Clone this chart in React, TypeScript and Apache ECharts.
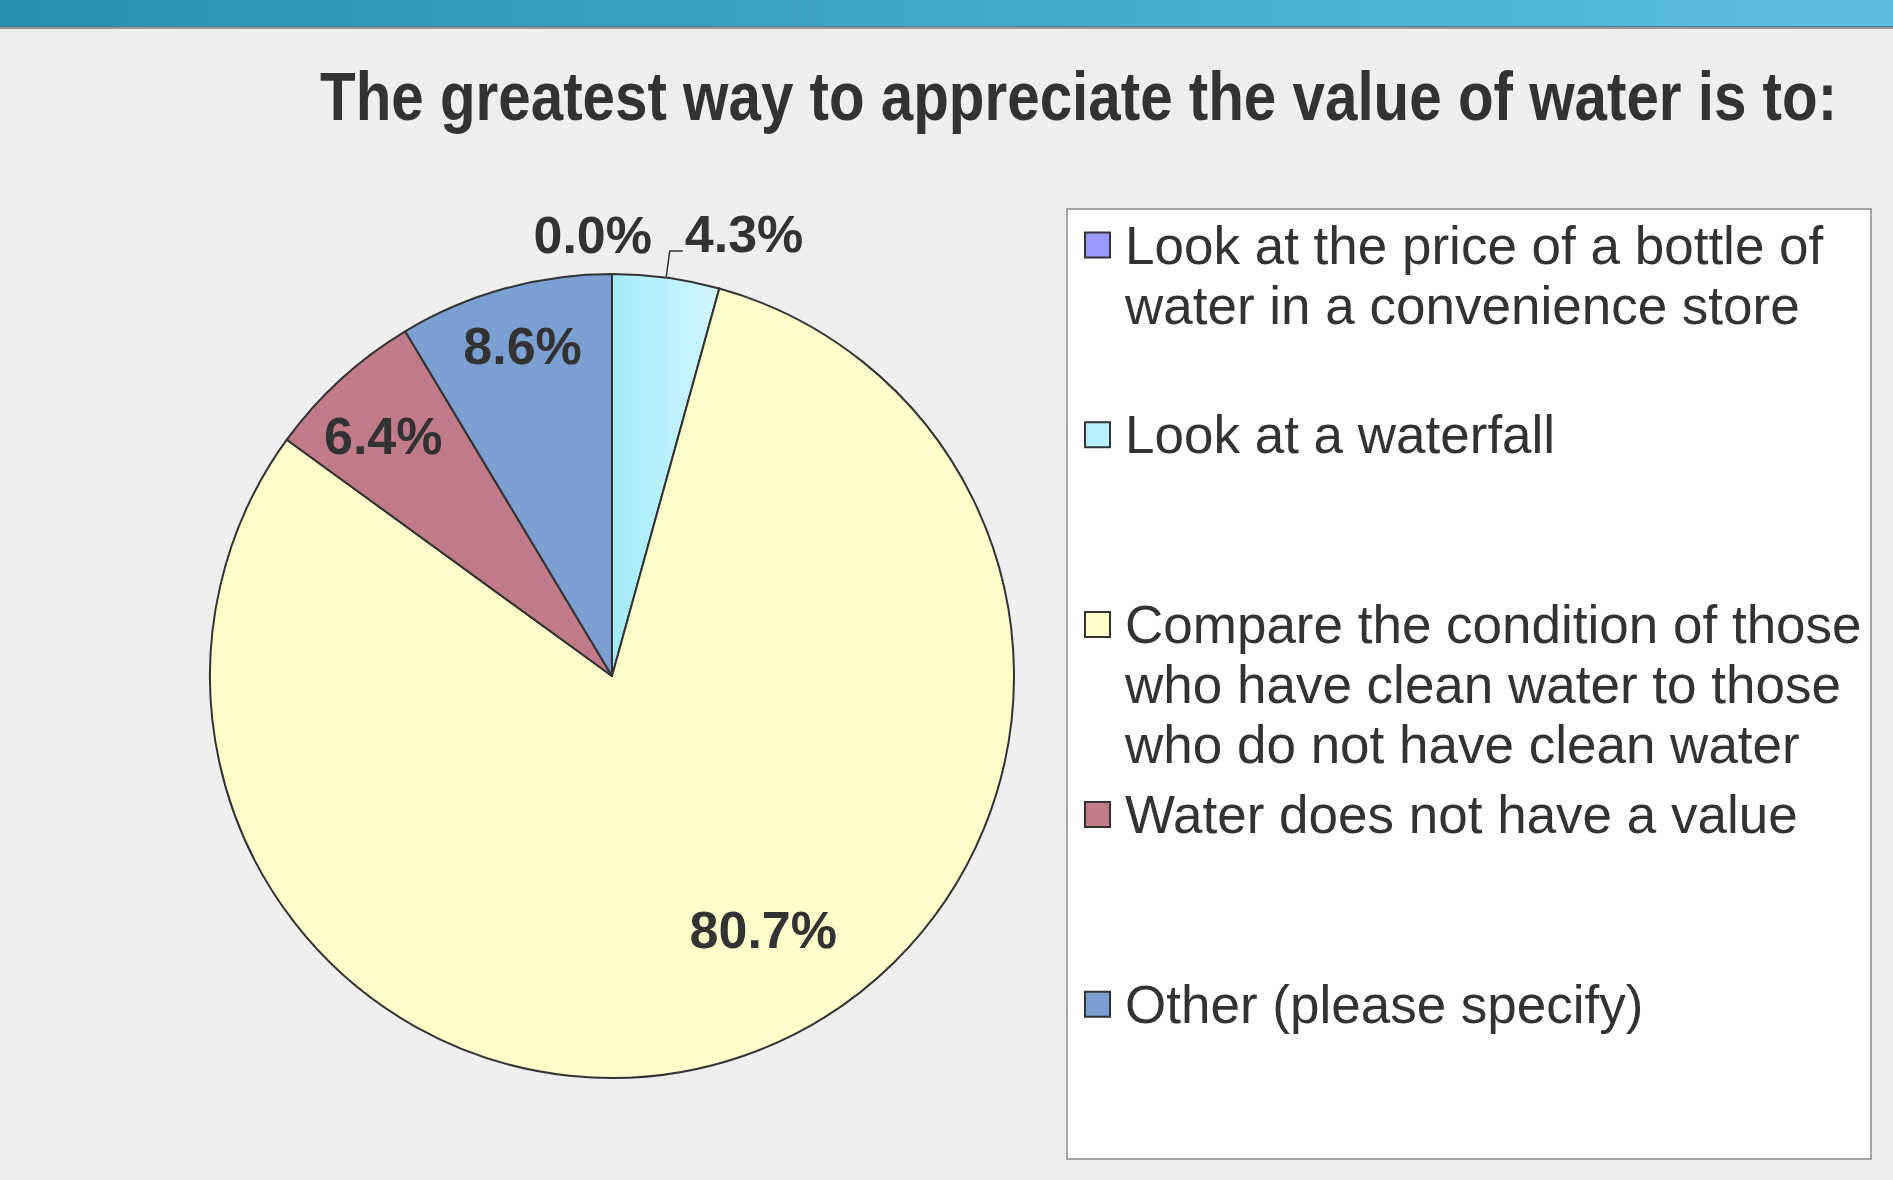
import React, { useEffect, useRef } from "react";
import * as echarts from "echarts";

// ---------- data ----------
const titleText = "The greatest way to appreciate the value of water is to:";
const categories = [
  "Look at the price of a bottle of water in a convenience store",
  "Look at a waterfall",
  "Compare the condition of those who have clean water to those who do not have clean water",
  "Water does not have a value",
  "Other (please specify)",
];
const legendLines = [
  ["Look at the price of a bottle of", "water in a convenience store"],
  ["Look at a waterfall"],
  ["Compare the condition of those", "who have clean water to those", "who do not have clean water"],
  ["Water does not have a value"],
  ["Other (please specify)"],
];
const percentages = [0.0, 4.3, 80.7, 6.4, 8.6];

// ---------- styles ----------
const sliceColors: any[] = [
  "#9999ff",
  {
    type: "linear",
    x: 0,
    y: 0,
    x2: 1,
    y2: 0,
    colorStops: [
      { offset: 0, color: "#a2ebfc" },
      { offset: 1, color: "#d2f6ff" },
    ],
  },
  "#ffffcc",
  "#c07a88",
  "#7b9fd0",
];
const legendIconColors = ["#9999ff", "#b8f0fd", "#ffffcc", "#c07a88", "#7b9fd0"];

const W = 1893;
const H = 1180;
const CX = 612;
const CY = 676;
const R = 402;
const SANS = "'Liberation Sans', Arial, Helvetica, sans-serif";
const TEXT_COLOR = "#333333";

// nudges for labels (dx, dy) relative to ECharts' default position
const labelShift: Record<number, [number, number]> = {
  1: [0, -17],
  2: [84, 61],
  3: [-91, -90],
  4: [-35, -133],
};

const LEGEND_X = 1067;
const LEGEND_Y = 209;
const LEGEND_W = 804;
const LEGEND_H = 950;
const LEGEND_FIRST = 245;
const LEGEND_STEP = 189.8;
const LEGEND_LINE = 60;

export default function App() {
  const ref = useRef<HTMLDivElement>(null);

  useEffect(() => {
    if (!ref.current) return;
    const chart = echarts.init(ref.current, undefined, { renderer: "svg", width: W, height: H });

    const legendGraphics: any[] = [];
    legendLines.forEach((lines, i) => {
      const cy = LEGEND_FIRST + i * LEGEND_STEP;
      legendGraphics.push({
        type: "rect",
        shape: { x: 1085, y: cy - 12.5, width: 25, height: 25 },
        style: { fill: legendIconColors[i], stroke: "#333", lineWidth: 2 },
        z: 10,
      });
      legendGraphics.push({
        type: "text",
        x: 1125,
        y: cy - LEGEND_LINE / 2,
        style: {
          text: lines.join("\n"),
          font: `53px ${SANS}`,
          fill: TEXT_COLOR,
          lineHeight: LEGEND_LINE,
          verticalAlign: "top",
          align: "left",
        },
        z: 10,
      });
    });

    const option: any = {
      animation: false,
      backgroundColor: "#eeeeee",
      graphic: [
        {
          type: "rect",
          shape: { x: 0, y: 0, width: W, height: 26 },
          style: {
            fill: {
              type: "linear",
              x: 0,
              y: 0,
              x2: 1,
              y2: 0,
              colorStops: [
                { offset: 0, color: "#2590b2" },
                { offset: 1, color: "#5cbee2" },
              ],
            },
          },
          silent: true,
        },
        { type: "rect", shape: { x: 0, y: 26, width: W, height: 1 }, style: { fill: "#3f7f94" }, silent: true },
        { type: "rect", shape: { x: 0, y: 27, width: W, height: 2 }, style: { fill: "#999999" }, silent: true },
        {
          type: "text",
          x: 320,
          y: 96,
          scaleX: 0.858,
          style: {
            text: titleText,
            font: `bold 68px ${SANS}`,
            fill: TEXT_COLOR,
            align: "left",
            verticalAlign: "middle",
          },
          z: 10,
        },
        {
          type: "rect",
          shape: { x: LEGEND_X, y: LEGEND_Y, width: LEGEND_W, height: LEGEND_H },
          style: { fill: "#ffffff", stroke: "#8a8a8a", lineWidth: 1.5 },
          z: 5,
        },
        ...legendGraphics,
      ],
      series: [
        {
          type: "pie",
          center: [CX, CY],
          radius: R,
          startAngle: 90,
          clockwise: true,
          avoidLabelOverlap: false,
          silent: true,
          itemStyle: { borderColor: "#333333", borderWidth: 2 },
          label: {
            show: true,
            position: "inside",
            formatter: (p: any) => `${Number(p.value).toFixed(1)}%`,
            fontFamily: SANS,
            fontSize: 52,
            fontWeight: "bold",
            color: TEXT_COLOR,
          },
          labelLine: { show: false },
          emphasis: { disabled: true },
          labelLayout: (p: any) => {
            if (p.dataIndex === 0) {
              return { x: CX + 40, y: CY - R - 39, align: "right", verticalAlign: "middle" };
            }
            const s = labelShift[p.dataIndex];
            if (s) return { dx: s[0], dy: s[1] };
            return {};
          },
          data: percentages.map((v, i) => ({
            name: categories[i],
            value: v,
            itemStyle: { color: sliceColors[i] },
            label:
              i === 1
                ? { position: "outside", distanceToLabelLine: 2 }
                : i === 0
                ? { position: "outside" }
                : undefined,
            labelLine:
              i === 1
                ? { show: true, length: 27, length2: 13, lineStyle: { color: "#333333", width: 1.5 } }
                : { show: false },
          })),
        },
      ],
    };

    chart.setOption(option);
    return () => chart.dispose();
  }, []);

  return (
    <div
      ref={ref}
      style={{ position: "fixed", left: 0, top: 0, width: W, height: H }}
    />
  );
}
